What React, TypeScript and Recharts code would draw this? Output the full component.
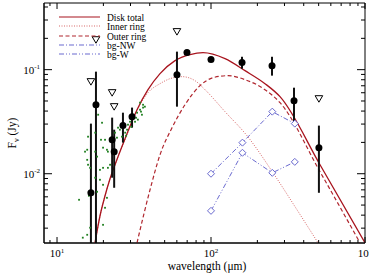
import React from "react";
import { ComposedChart, Scatter, Line, XAxis, YAxis, ErrorBar, ReferenceArea } from "recharts";

const W = 369;
const H = 277;
const LEFT = 44;
const TOP = 3;
const RIGHT = 365;
const BOTTOM = 243;
const FONT = "'Liberation Serif', 'Times New Roman', serif";

const xDomain = [8.23, 1000];
const yDomain = [0.00216, 0.437];

const xTicks = [9, 10, 20, 30, 40, 50, 60, 70, 80, 90, 100, 200, 300, 400, 500, 600, 700, 800, 900, 1000];
const yTicks = [0.003, 0.004, 0.005, 0.006, 0.007, 0.008, 0.009, 0.01, 0.02, 0.03, 0.04, 0.05, 0.06, 0.07, 0.08, 0.09, 0.1, 0.2, 0.3, 0.4];

// photometry with error bars
const photWave = [16.6, 17.9, 22.8, 23.5, 26.8, 30.7, 60.1, 69.8, 100, 159, 249, 346, 502];
const photFlux = [0.00656, 0.046, 0.0212, 0.0163, 0.029, 0.0353, 0.0895, 0.146, 0.125, 0.117, 0.109, 0.0503, 0.0178];
const photHigh = [0.0303, 0.0957, 0.0346, 0.0265, 0.0386, 0.0432, 0.149, 0.146, 0.125, 0.133, 0.133, 0.0671, 0.029];
const photLow = [0.00216, 0.00216, 0.00916, 0.00733, 0.0199, 0.0277, 0.0441, 0.146, 0.125, 0.102, 0.0876, 0.0309, 0.00656];

// upper limits
const limWave = [16.6, 17.9, 22.8, 23.5, 60.1, 502];
const limFlux = [0.0767, 0.194, 0.0601, 0.0441, 0.232, 0.0526];

// IRS spectrum dots
const irsWave = [18.5, 19.6, 17.7, 19.3, 20.5, 22.1, 15.9, 15.7, 15.2, 17.7, 19.9, 21.1, 21.4, 18.2, 15.7, 15.9, 16.4, 22.1, 21.4, 24.9, 25.6, 23.8, 27.7, 26.4, 24.5, 26.8, 28.9, 29.8, 31.2, 33.1, 34.6, 35.6, 36.2, 33.5, 32.1, 28.5, 37.2, 34.6, 36.2, 32.6, 30.3, 35.1, 28.1, 19.0, 19.9, 17.7, 19.0, 19.9, 13.9, 21.1, 20.5, 19.9, 16.4, 15.7, 14.7, 16.1, 18.2];
const irsFlux = [0.0369, 0.0309, 0.0248, 0.0212, 0.0212, 0.0212, 0.0227, 0.017, 0.0163, 0.0163, 0.0178, 0.017, 0.0163, 0.0146, 0.0136, 0.0122, 0.0114, 0.0122, 0.0114, 0.0277, 0.0265, 0.0248, 0.0248, 0.0227, 0.0222, 0.0277, 0.0296, 0.0316, 0.0369, 0.0386, 0.0412, 0.0369, 0.0432, 0.0331, 0.0316, 0.0265, 0.0441, 0.0482, 0.046, 0.0345, 0.0283, 0.0395, 0.0232, 0.0109, 0.0114, 0.00916, 0.00875, 0.00783, 0.00562, 0.00587, 0.00471, 0.00323, 0.00303, 0.00259, 0.00243, 0.00614, 0.00671];

// models
const totalWave = [17.65, 19.02, 20.5, 22.09, 23.8, 27.64, 33.07, 38.98, 46.65, 58.39, 73.05, 88.73, 123.3, 166.3, 224.2, 280.6, 510.4, 1000];
const totalFlux = [0.00217, 0.003948, 0.006143, 0.008953, 0.01221, 0.0217, 0.04123, 0.06422, 0.09152, 0.1221, 0.1394, 0.1457, 0.1276, 0.09781, 0.07334, 0.055, 0.01221, 0.00217];
const innerWave = [17.65, 19.02, 20.5, 22.09, 23.8, 27.64, 33.07, 38.98, 46.65, 54.18, 64.82, 78.72, 91.42, 123.3, 171.3, 252.7, 361.7, 495.2];
const innerFlux = [0.00217, 0.003948, 0.006143, 0.008953, 0.01221, 0.02123, 0.04036, 0.06013, 0.07334, 0.08192, 0.08565, 0.07837, 0.06422, 0.03947, 0.02319, 0.01022, 0.004506, 0.00217];
const outerWave = [33.07, 40.18, 46.65, 55.83, 67.81, 84.85, 103.0, 128.9, 166.3, 224.2, 280.6, 510.4, 927.9];
const outerFlux = [0.00217, 0.007017, 0.01523, 0.02769, 0.04607, 0.07017, 0.08377, 0.08758, 0.08013, 0.06422, 0.04816, 0.01045, 0.00217];

// background
const bgWave = [100, 160, 250, 350];
const bgNW = [0.01, 0.0199, 0.0395, 0.0303];
const bgW = [0.0044, 0.0159, 0.0102, 0.013];

const zip = (xs: number[], ys: number[]) => xs.map((x, i) => ({ x, y: ys[i] }));

const photData = photWave.map((x, i) => ({
  x,
  y: photFlux[i],
  err: [photFlux[i] - photLow[i], photHigh[i] - photFlux[i]],
}));

const RED = "#a8141e";
const RED_LIGHT = "#d86868";
const RED_DASH = "#b0262e";
const BLUE = "#6a6acf";

const isMajor = (v: number) => Math.abs(Math.log10(v) - Math.round(Math.log10(v))) < 1e-6;

function XTick(props: any) {
  const { x, payload } = props;
  const v = payload.value;
  const major = isMajor(v);
  const len = major ? 6 : 3;
  return (
    <g>
      <line x1={x} x2={x} y1={BOTTOM} y2={BOTTOM - len} stroke="#000" />
      <line x1={x} x2={x} y1={TOP} y2={TOP + len} stroke="#000" />
      {major && (
        <text x={x} y={BOTTOM + 14} textAnchor="middle" fontFamily={FONT} fontSize={11} fill="#000">
          10<tspan dy={-4} fontSize={7}>{Math.round(Math.log10(v))}</tspan>
        </text>
      )}
    </g>
  );
}

function YTick(props: any) {
  const { y, payload } = props;
  const v = payload.value;
  const major = isMajor(v);
  const len = major ? 8 : 4;
  return (
    <g>
      <line x1={LEFT} x2={LEFT + len} y1={y} y2={y} stroke="#000" />
      <line x1={RIGHT} x2={RIGHT - len} y1={y} y2={y} stroke="#000" />
      {major && (
        <text x={LEFT - 4} y={y + 4} textAnchor="end" fontFamily={FONT} fontSize={11} fill="#000">
          10<tspan dy={-5} fontSize={7}>{Math.round(Math.log10(v))}</tspan>
        </text>
      )}
    </g>
  );
}

const Dot = (p: any) => <circle cx={p.cx} cy={p.cy} r={3.5} fill="#000" />;
const Tri = (p: any) => (
  <polygon
    points={`${p.cx - 3.8},${p.cy - 3} ${p.cx + 3.8},${p.cy - 3} ${p.cx},${p.cy + 3.5}`}
    fill="#fff"
    stroke="#000"
    strokeWidth={1}
  />
);
const Speck = (p: any) => <rect x={p.cx - 0.9} y={p.cy - 0.9} width={1.8} height={1.8} fill="#1f7f1f" />;
const Diamond = (p: any) => (
  <path
    key={`d-${p.index}-${p.cx}`}
    d={`M${p.cx},${p.cy - 3.5} L${p.cx + 3.5},${p.cy} L${p.cx},${p.cy + 3.5} L${p.cx - 3.5},${p.cy} Z`}
    fill="#fff"
    stroke={BLUE}
    strokeWidth={1}
  />
);

const legendRows = [
  { label: "Disk total", color: RED, dash: undefined, y: 17 },
  { label: "Inner ring", color: RED_LIGHT, dash: "1 1.5", y: 26 },
  { label: "Outer ring", color: RED_DASH, dash: "4 2.5", y: 36 },
  { label: "bg-NW", color: BLUE, dash: "5 2 1 2", y: 45 },
  { label: "bg-W", color: BLUE, dash: "5 2 1 2 1 2", y: 54 },
];

export default function App() {
  return (
    <div style={{ position: "absolute", left: 0, top: 0, width: W, height: H, background: "#fff" }}>
      <ComposedChart width={W} height={H} margin={{ top: TOP, right: W - RIGHT, bottom: 0, left: 0 }}>
        <XAxis
          dataKey="x"
          type="number"
          scale="log"
          domain={xDomain}
          allowDataOverflow
          ticks={xTicks}
          interval={0}
          tick={XTick}
          tickLine={false}
          tickSize={0}
          tickMargin={0}
          height={H - BOTTOM}
          stroke="#000"
        />
        <YAxis
          dataKey="y"
          type="number"
          scale="log"
          domain={yDomain}
          allowDataOverflow
          ticks={yTicks}
          interval={0}
          tick={YTick}
          tickLine={false}
          tickSize={0}
          tickMargin={0}
          width={LEFT}
          stroke="#000"
        />
        <ReferenceArea x1={xDomain[0]} x2={xDomain[1]} y1={yDomain[0]} y2={yDomain[1]} fill="none" stroke="#000" strokeWidth={1} />

        <Scatter data={zip(irsWave, irsFlux)} shape={Speck} isAnimationActive={false} />

        <Line data={zip(innerWave, innerFlux)} dataKey="y" type="monotone" stroke={RED_LIGHT} strokeWidth={1} strokeDasharray="1 1.5" dot={false} isAnimationActive={false} />
        <Line data={zip(outerWave, outerFlux)} dataKey="y" type="monotone" stroke={RED_DASH} strokeWidth={1.2} strokeDasharray="4 2.5" dot={false} isAnimationActive={false} />
        <Line data={zip(totalWave, totalFlux)} dataKey="y" type="monotone" stroke={RED} strokeWidth={1.3} dot={false} isAnimationActive={false} />

        <Line data={zip(bgWave, bgNW)} dataKey="y" type="linear" stroke={BLUE} strokeWidth={1} strokeDasharray="5 2 1 2" dot={Diamond} isAnimationActive={false} />
        <Line data={zip(bgWave, bgW)} dataKey="y" type="linear" stroke={BLUE} strokeWidth={1} strokeDasharray="5 2 1 2 1 2" dot={Diamond} isAnimationActive={false} />

        <Scatter data={zip(limWave, limFlux)} shape={Tri} isAnimationActive={false} />
        <Scatter data={photData} shape={Dot} isAnimationActive={false}>
          <ErrorBar dataKey="err" direction="y" width={0} stroke="#111" strokeWidth={2} />
        </Scatter>
      </ComposedChart>

      <svg width={W} height={H} style={{ position: "absolute", left: 0, top: 0, pointerEvents: "none" }}>
        {legendRows.map((r) => (
          <g key={r.label}>
            <line x1={59} x2={100} y1={r.y} y2={r.y} stroke={r.color} strokeWidth={1.2} strokeDasharray={r.dash} />
            <text x={107} y={r.y + 3.5} fontFamily={FONT} fontSize={9.5} fill="#000">
              {r.label}
            </text>
          </g>
        ))}
        <text x={207} y={270} textAnchor="middle" fontFamily={FONT} fontSize={11.5} fill="#000">
          wavelength (μm)
        </text>
        <text transform="translate(16,133) rotate(-90)" textAnchor="middle" fontFamily={FONT} fontSize={11.5} fill="#000">
          F<tspan dy={3} fontSize={8}>ν</tspan>
          <tspan dy={-3}> (Jy)</tspan>
        </text>
      </svg>
    </div>
  );
}
